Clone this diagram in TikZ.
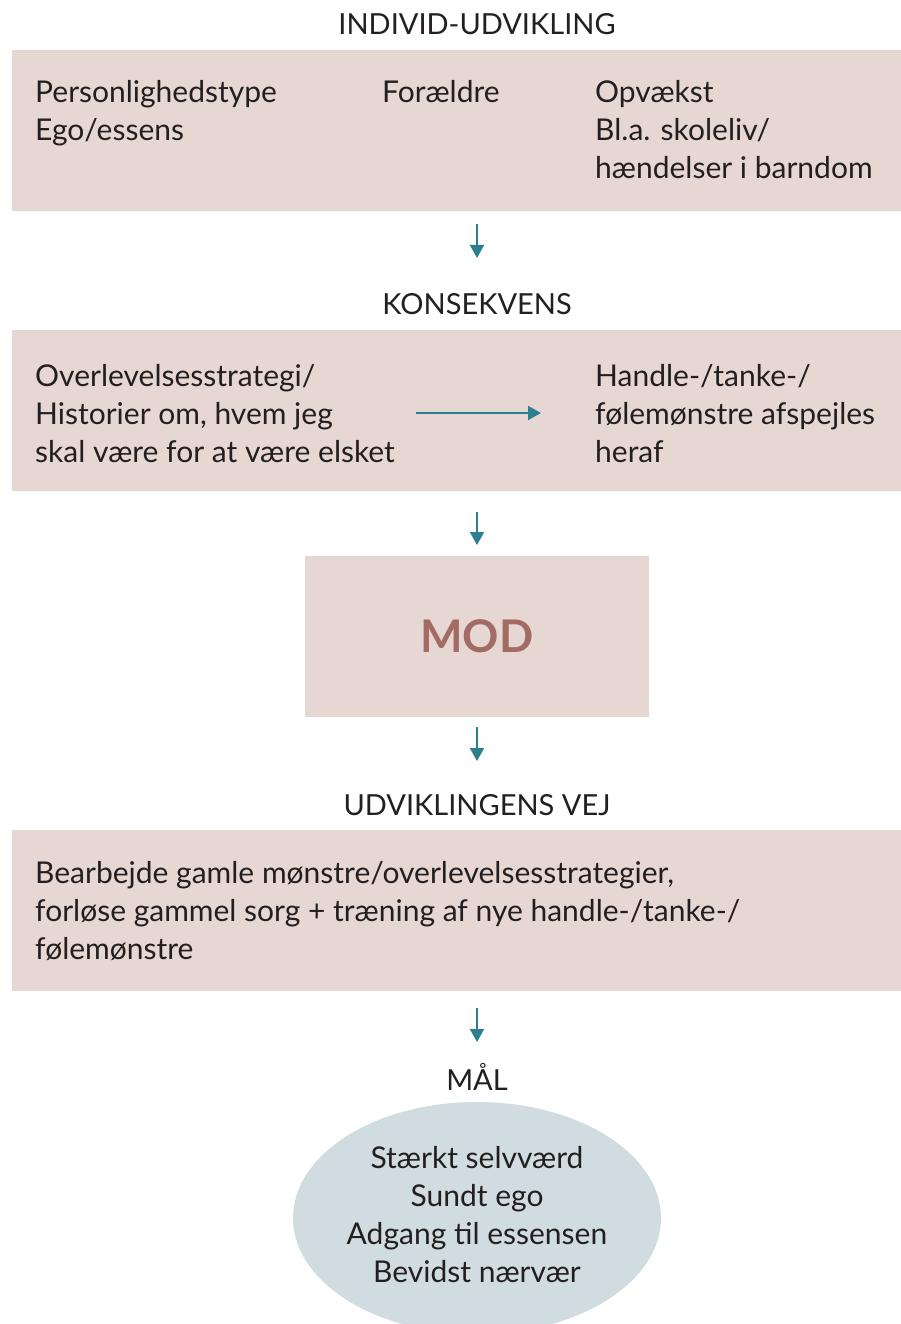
\documentclass[tikz,border=0pt]{standalone}
\usepackage{fontspec}
\setmainfont{Lato}
\usetikzlibrary{arrows.meta,positioning,shapes.geometric}
\definecolor{panel}{HTML}{E7D7D3}
\definecolor{goal}{HTML}{D0DCE0}
\definecolor{flowc}{HTML}{2B7F8E}
\definecolor{modc}{HTML}{A26B63}
\definecolor{ink}{HTML}{231F20}

\begin{document}
\begin{tikzpicture}[x=1pt,y=-1pt,
  panelbox/.style={fill=panel,draw=none,anchor=north west,inner sep=0pt},
  % multi-line nodes sit on the baseline of their last line
  txt/.style={font=\fontsize{30}{38}\selectfont,text=ink,align=left,anchor=base west,inner sep=0pt},
  heading/.style={font=\fontsize{29}{32}\selectfont,text=ink,anchor=base,inner sep=0pt},
  flow/.style={flowc,line width=2pt,-{Triangle[width=14pt,length=13pt]}},
]
  \useasboundingbox (0,0) rectangle (901,1324);
  \clip (0,0) rectangle (901,1324);

  % individ
  \node[heading] (h1) at (477,35) {INDIVID-UDVIKLING};
  \node[panelbox,minimum width=889pt,minimum height=161pt] (b1) at (12,50) {};
  \node[txt] (p1) at (35,141) {Personlighedstype\\Ego/essens};
  \node[txt] (p2) at (382,103) {Forældre};
  \node[txt] (p3) at (595,179) {Opvækst\\Bl.a. skoleliv/\\hændelser i barndom};

  % konsekvens
  \node[heading] (h2) at (477,314) {KONSEKVENS};
  \node[panelbox,minimum width=889pt,minimum height=161pt] (b2) at (12,330) {};
  \node[txt] (k1) at (35,462) {Overlevelsesstrategi/\\Historier om, hvem jeg\\skal være for at være elsket};
  \node[txt] (k2) at (595,462) {Handle-/tanke-/\\følemønstre afspejles\\heraf};

  % mod
  \node[panelbox,minimum width=344pt,minimum height=161pt] (b3) at (305,556) {};
  \node[font=\fontsize{45}{50}\selectfont\bfseries,text=modc,anchor=base,inner sep=0pt] (mod) at (477,652) {MOD};

  % vej
  \node[heading] (h3) at (477,815) {UDVIKLINGENS VEJ};
  \node[panelbox,minimum width=889pt,minimum height=161pt] (b4) at (12,830) {};
  \node[txt] (v1) at (35,959) {Bearbejde gamle mønstre/overlevelsesstrategier,\\forløse gammel sorg + træning af nye handle-/tanke-/\\følemønstre};

  % maal
  \node[heading] (h4) at (477,1090) {MÅL};
  \node[ellipse,fill=goal,minimum width=368pt,minimum height=232pt,inner sep=0pt] (g) at (477,1218) {};
  \node[font=\fontsize{30}{38}\selectfont,text=ink,align=center,anchor=base,inner sep=0pt] (gt) at (477,1282)
    {Stærkt selvværd\\Sundt ego\\Adgang til essensen\\Bevidst nærvær};

  % pile
  \coordinate (a1) at (477,224);  \coordinate (a1e) at (477,258);
  \coordinate (a2) at (477,512);  \coordinate (a2e) at (477,545);
  \coordinate (a3) at (477,727);  \coordinate (a3e) at (477,761);
  \coordinate (a4) at (477,1008); \coordinate (a4e) at (477,1042);
  \coordinate (ks) at (416,413);  \coordinate (ke) at (541,413);
  \draw[flow] (a1) -- (a1e);
  \draw[flow] (a2) -- (a2e);
  \draw[flow] (a3) -- (a3e);
  \draw[flow] (a4) -- (a4e);
  \draw[flow] (ks) -- (ke);
\end{tikzpicture}
\end{document}
